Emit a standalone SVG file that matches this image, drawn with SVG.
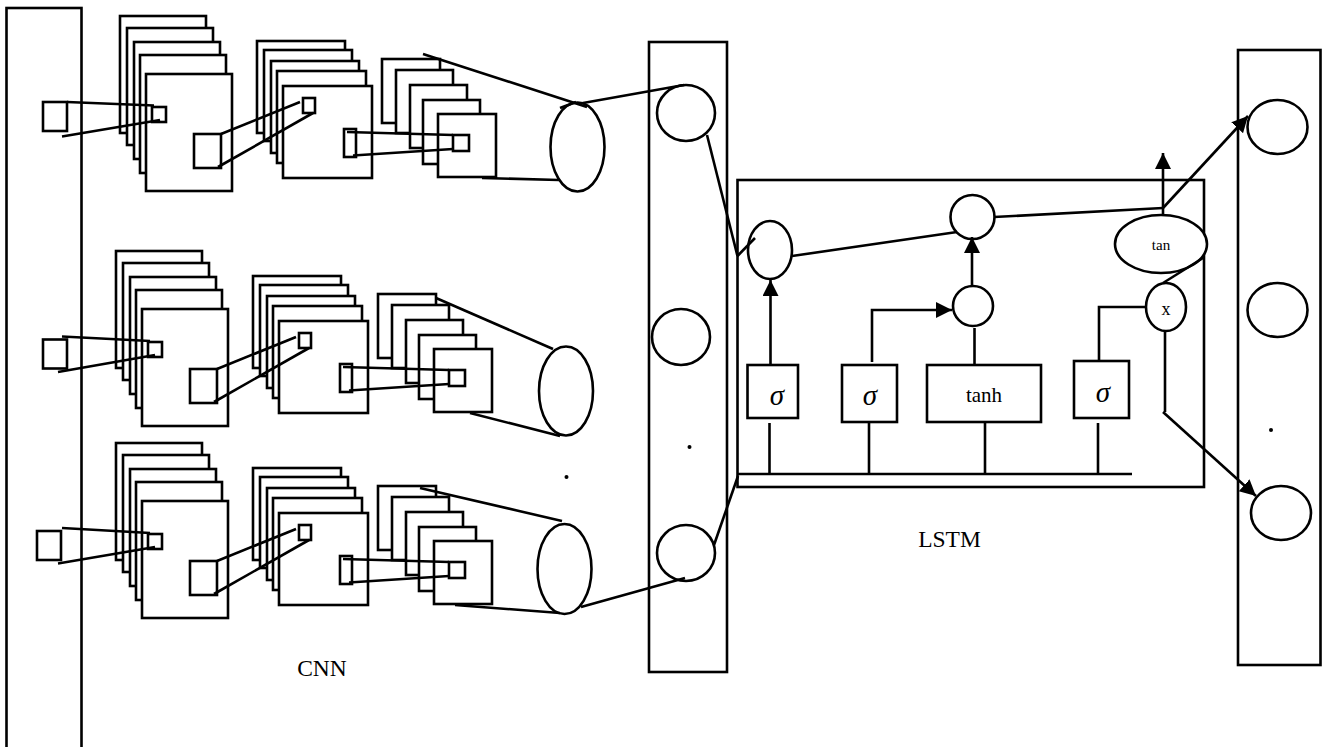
<svg xmlns="http://www.w3.org/2000/svg" xmlns:xlink="http://www.w3.org/1999/xlink" width="1325" height="747" viewBox="0 0 1325 747">
<style>
rect,ellipse,circle{fill:#fff;stroke:#000;stroke-width:2.6}
.hollow{fill:none}
line,polyline{fill:none;stroke:#000;stroke-width:2.6}
text{font-family:"Liberation Serif","Times New Roman",serif;fill:#000;text-anchor:middle}
.lbl{font-size:23.5px}
.sig{font-size:29px;font-style:italic}
.dot{fill:#000;stroke:none}
</style>
<defs>
<marker id="head" markerUnits="userSpaceOnUse" markerWidth="18" markerHeight="18" refX="16" refY="8" orient="auto"><polygon points="0,0 16,8 0,16" fill="#000"/></marker>
<g id="layers">
<rect x="120" y="16" width="86" height="117"/><rect x="127" y="28" width="86" height="117"/><rect x="134" y="42" width="86" height="117"/><rect x="140" y="55" width="86" height="118"/><rect x="146" y="74" width="86" height="117"/>
<rect class="hollow" x="152" y="107" width="14" height="15"/><rect class="hollow" x="194" y="134" width="27" height="34"/>
<rect x="257" y="41" width="88" height="92"/><rect x="264" y="50" width="88" height="91"/><rect x="271" y="61" width="88" height="92"/><rect x="277" y="71" width="89" height="92"/><rect x="283" y="86" width="89" height="92"/>
<rect class="hollow" x="303" y="98" width="12" height="15"/><rect class="hollow" x="344" y="129" width="12" height="28"/>
<rect x="382" y="59" width="58" height="64"/><rect x="396" y="70" width="57" height="63"/><rect x="410" y="85" width="57" height="63"/><rect x="423" y="100" width="57" height="64"/><rect x="438" y="114" width="58" height="63"/>
<rect class="hollow" x="453" y="135" width="16" height="16"/>
</g>
</defs>
<g id="input-panel"><rect x="6.500" y="8" width="75" height="745"/></g>
<g id="cnn-1"><use xlink:href="#layers" href="#layers"/><rect x="43" y="102" width="24" height="29"/><ellipse cx="577.500" cy="147" rx="27" ry="44.500"/></g>
<g id="cnn-2"><use xlink:href="#layers" href="#layers" transform="translate(-4,235)"/><rect x="43" y="339.500" width="24" height="29"/><ellipse cx="566" cy="391" rx="27" ry="44.500"/></g>
<g id="cnn-3"><use xlink:href="#layers" href="#layers" transform="translate(-4,427)"/><rect x="37" y="531" width="24" height="29"/><ellipse cx="564.500" cy="569" rx="27" ry="45"/></g>
<g id="cnn-label"><text class="lbl" x="322" y="676">CNN</text></g>
<g id="dot-cnn"><circle class="dot" cx="566.500" cy="477" r="2"/></g>
<g id="feature-panel"><rect x="649" y="42" width="78" height="630"/><ellipse cx="686" cy="113" rx="29" ry="28"/><ellipse cx="681" cy="337" rx="29" ry="28"/><ellipse cx="686" cy="553" rx="29" ry="28"/><circle class="dot" cx="689.500" cy="447" r="2"/></g>
<g id="lstm-cell"><rect x="737.500" y="180" width="466.500" height="307"/></g>
<g id="lstm-label"><text class="lbl" x="949.500" y="546.500">LSTM</text></g>
<g id="forget-gate"><rect x="747.500" y="365" width="50.500" height="53"/><text class="sig" x="777" y="405">σ</text></g>
<g id="input-gate"><rect x="842" y="365" width="55" height="57"/><text class="sig" x="870" y="405">σ</text></g>
<g id="tanh-box"><rect x="927" y="365" width="114" height="57"/><text x="984" y="402" font-size="21">tanh</text></g>
<g id="output-gate"><rect x="1074" y="361" width="55" height="57"/><text class="sig" x="1103" y="402">σ</text></g>
<g id="forget-merge"><ellipse cx="770" cy="250" rx="22" ry="29"/></g>
<g id="cell-add"><circle cx="972.500" cy="217" r="22"/></g>
<g id="input-mul"><circle cx="973" cy="306" r="20"/></g>
<g id="tan-node"><ellipse cx="1161" cy="244" rx="46" ry="29"/><text x="1161" y="250" font-size="15">tan</text></g>
<g id="x-node"><ellipse cx="1166" cy="307" rx="20" ry="24"/><text x="1166" y="315" font-size="18">x</text></g>
<g id="output-panel"><rect x="1238" y="50" width="82.500" height="615"/><ellipse cx="1277.500" cy="127" rx="30" ry="27"/><ellipse cx="1277.500" cy="310" rx="30" ry="27"/><ellipse cx="1281" cy="513" rx="30" ry="27"/><circle class="dot" cx="1271" cy="430" r="2"/></g>
<g id="connectors">
<line x1="67" y1="102" x2="154" y2="105.500"/><line x1="62" y1="136.500" x2="160" y2="120"/>
<line x1="221" y1="134" x2="300" y2="102"/><line x1="218" y1="167" x2="313" y2="113"/>
<line x1="347" y1="132" x2="453" y2="135"/><line x1="353" y1="155.500" x2="453" y2="149"/>
<line x1="423" y1="54" x2="587" y2="107"/><line x1="560" y1="108" x2="576" y2="102"/><line x1="482" y1="178" x2="559" y2="180"/>
<line x1="62" y1="336.500" x2="150" y2="341"/><line x1="58" y1="372" x2="155" y2="355"/>
<line x1="217" y1="369" x2="296" y2="337"/><line x1="214" y1="402" x2="309" y2="348"/>
<line x1="343" y1="367" x2="449" y2="370"/><line x1="349" y1="390.500" x2="449" y2="384"/>
<line x1="436" y1="298" x2="553" y2="349"/><line x1="470" y1="413" x2="560" y2="436"/>
<line x1="62" y1="528" x2="150" y2="533"/><line x1="58" y1="563.500" x2="155" y2="547"/>
<line x1="217" y1="561" x2="296" y2="529"/><line x1="214" y1="594" x2="309" y2="540"/>
<line x1="343" y1="559" x2="449" y2="562"/><line x1="349" y1="582.500" x2="449" y2="576"/>
<line x1="420" y1="488" x2="562" y2="521"/><line x1="455" y1="605" x2="560" y2="613"/>
<line x1="581" y1="607" x2="685" y2="578"/><line x1="714" y1="545" x2="738" y2="476"/>
<line x1="583" y1="103" x2="684" y2="85"/><line x1="707" y1="135" x2="737.500" y2="256"/><line x1="737.500" y1="256" x2="755" y2="238"/>
<line x1="792" y1="256" x2="957" y2="232"/><line x1="994" y1="217" x2="1163" y2="208"/>
<line x1="738" y1="474" x2="1132" y2="474"/>
<line x1="769.500" y1="423" x2="769.500" y2="474"/><line x1="869" y1="423" x2="869" y2="474"/><line x1="985" y1="422" x2="985" y2="474"/><line x1="1098" y1="423" x2="1098" y2="474"/>
<line x1="770.500" y1="364" x2="770.500" y2="280" marker-end="url(#head)"/>
<polyline points="872,362 872,310 952,310" marker-end="url(#head)"/>
<line x1="972" y1="287" x2="972" y2="237" marker-end="url(#head)"/>
<line x1="974.500" y1="328" x2="974.500" y2="365"/>
<line x1="1163" y1="215" x2="1163" y2="153" marker-end="url(#head)"/>
<line x1="1163" y1="208" x2="1248" y2="116" marker-end="url(#head)"/>
<line x1="1163" y1="283" x2="1203" y2="258"/>
<polyline points="1146,307 1099,307 1099,360"/>
<line x1="1165" y1="332" x2="1165" y2="412"/>
<line x1="1163" y1="412" x2="1256" y2="496" marker-end="url(#head)"/>
</g>
</svg>
